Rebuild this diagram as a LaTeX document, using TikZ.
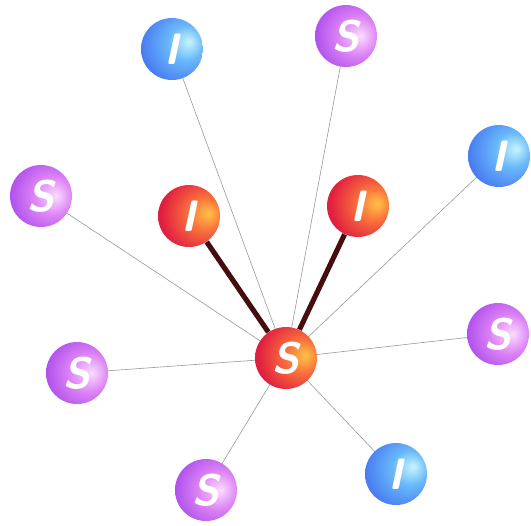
\documentclass[tikz,border=0pt]{standalone}
\usepackage{tikz}
\usetikzlibrary{backgrounds}
\definecolor{cbond}{RGB}{ 70, 12, 14}
\definecolor{clink}{RGB}{150,155,160}
\definecolor{bhi}{RGB}{200,245,255}
\definecolor{bmid}{RGB}{105,185,250}
\definecolor{bbase}{RGB}{ 70,120,240}
\definecolor{bedge}{RGB}{ 80, 90,225}
\definecolor{phi}{RGB}{250,220,255}
\definecolor{pmid}{RGB}{220,130,245}
\definecolor{pbase}{RGB}{170, 75,235}
\definecolor{pedge}{RGB}{140, 60,225}
\definecolor{rhi}{RGB}{255,195, 70}
\definecolor{rmid}{RGB}{250,115, 60}
\definecolor{rbase}{RGB}{225, 30, 65}
\definecolor{redge}{RGB}{195, 25, 75}
% sphere shadings (highlight towards the right)
\pgfdeclareradialshading{sphblue}{\pgfpoint{14bp}{6bp}}{%
  color(0bp)=(bhi); color(14bp)=(bmid);
  color(34bp)=(bbase); color(55bp)=(bedge); color(75bp)=(bedge)}
\pgfdeclareradialshading{sphpurple}{\pgfpoint{12bp}{0bp}}{%
  color(0bp)=(phi); color(16bp)=(pmid);
  color(34bp)=(pbase); color(55bp)=(pedge); color(75bp)=(pedge)}
\pgfdeclareradialshading{sphred}{\pgfpoint{16bp}{2bp}}{%
  color(0bp)=(rhi); color(13bp)=(rmid);
  color(32bp)=(rbase); color(55bp)=(redge); color(75bp)=(redge)}
\tikzset{
  atom/.style={circle,minimum size=1.24cm,inner sep=0pt,text=white,
    font=\fontsize{25}{25}\selectfont\sffamily\bfseries\itshape},
  sulfur/.style={atom,shading=sphpurple},
  iodine/.style={atom,shading=sphblue},
  hot/.style={atom,shading=sphred},
  link/.style={draw=clink,line width=0.35pt},
  bond/.style={draw=cbond,line width=2.9pt}
}

\begin{document}
\begin{tikzpicture}[x=0.02cm,y=-0.02cm]

  % fixed frame, same proportions as the reference
  \useasboundingbox (0,0) rectangle (531,525);

  % ---------------- central atom ----------------
  \node[hot] (s0) at (286,358) {S};

  % ---------------- bonded neighbours ----------------
  \node[hot] (i1) at (189,216) {I};
  \node[hot] (i2) at (358,206) {I};

  % ---------------- outer shell ----------------
  \node[iodine] (i3) at (172,49)  {I};
  \node[sulfur] (s1) at (346,36)  {S};
  \node[iodine] (i4) at (499,156) {I};
  \node[sulfur] (s2) at (41,196)  {S};
  \node[sulfur] (s3) at (498,334) {S};
  \node[sulfur] (s4) at (77,373)  {S};
  \node[sulfur] (s5) at (206,490) {S};
  \node[iodine] (i5) at (396,474) {I};

  % ---------------- connectors ----------------
  \begin{scope}[on background layer]
    \foreach \n in {i3,s1,i4,s2,s3,s4,s5,i5}
      \draw[link] (s0.center) -- (\n.center);
    \draw[bond] (s0) -- (i1);
    \draw[bond] (s0) -- (i2);
  \end{scope}

\end{tikzpicture}
\end{document}
